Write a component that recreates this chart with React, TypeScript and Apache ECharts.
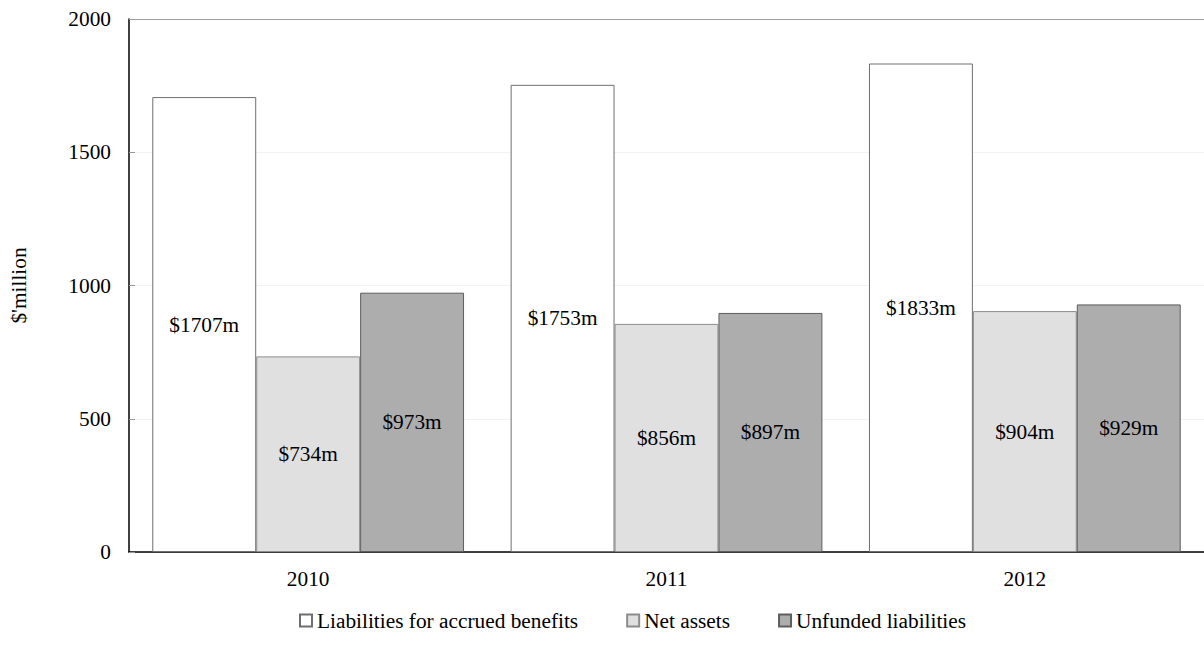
import React, { useEffect, useRef } from "react";
import * as echarts from "echarts";

const years = ["2010", "2011", "2012"];
const liabilities = [1707, 1753, 1833];
const netAssets = [734, 856, 904];
const unfunded = [973, 897, 929];
const seriesNames = ["Liabilities for accrued benefits", "Net assets", "Unfunded liabilities"];

const FONT = "Liberation Serif";
const FS = 21.33;

export default function App() {
  const ref = useRef<HTMLDivElement>(null);

  useEffect(() => {
    if (!ref.current) return;
    const chart = echarts.init(ref.current, null, { renderer: "svg" });

    const barSeries = (name: string, data: number[], fill: string, border: string) => ({
      name,
      type: "bar",
      data,
      barGap: "0%",
      barCategoryGap: "13%",
      itemStyle: { color: fill, borderColor: border, borderWidth: 1 },
      label: {
        show: true,
        position: "inside",
        color: "#000",
        fontFamily: FONT,
        fontSize: FS,
        formatter: (p: any) => `$${p.value}m`,
      },
    });

    chart.setOption({
      animation: false,
      backgroundColor: "#fff",
      textStyle: { fontFamily: FONT },
      grid: { left: 126, top: 19, width: 1086, height: 533, containLabel: false },
      legend: {
        left: 294,
        top: 605,
        itemWidth: 12,
        itemHeight: 12,
        itemGap: 48,
        icon: "rect",
        textStyle: { fontFamily: FONT, fontSize: FS, color: "#000" },
        data: seriesNames,
      },
      xAxis: {
        type: "category",
        data: years,
        axisLine: { lineStyle: { color: "#000", width: 1.5 } },
        axisTick: { inside: true, length: 6, lineStyle: { color: "#999" } },
        axisLabel: { color: "#000", fontFamily: FONT, fontSize: FS, margin: 16 },
      },
      yAxis: {
        type: "value",
        min: 0,
        max: 2000,
        interval: 500,
        name: "$'million",
        nameLocation: "middle",
        nameGap: 100,
        nameTextStyle: { color: "#000", fontFamily: FONT, fontSize: FS },
        axisLine: { show: true, lineStyle: { color: "#000", width: 1.5 } },
        axisTick: { show: true, inside: true, length: 6, lineStyle: { color: "#999" } },
        axisLabel: {
          color: "#000",
          fontFamily: FONT,
          fontSize: FS,
          margin: 18,
          formatter: (v: number) => String(v),
        },
        splitLine: {
          show: true,
          lineStyle: { color: ["#f3f3f3", "#f3f3f3", "#f3f3f3", "#f3f3f3", "#a0a0a0"], width: 1 },
        },
      },
      series: [
        barSeries(seriesNames[0], liabilities, "#ffffff", "#6e6e6e"),
        barSeries(seriesNames[1], netAssets, "#e0e0e0", "#8c8c8c"),
        barSeries(seriesNames[2], unfunded, "#adadad", "#5e5e5e"),
      ],
    });

    return () => chart.dispose();
  }, []);

  return (
    <div
      ref={ref}
      style={{ position: "fixed", left: 0, top: 0, width: 1204, height: 662, background: "#fff" }}
    />
  );
}
